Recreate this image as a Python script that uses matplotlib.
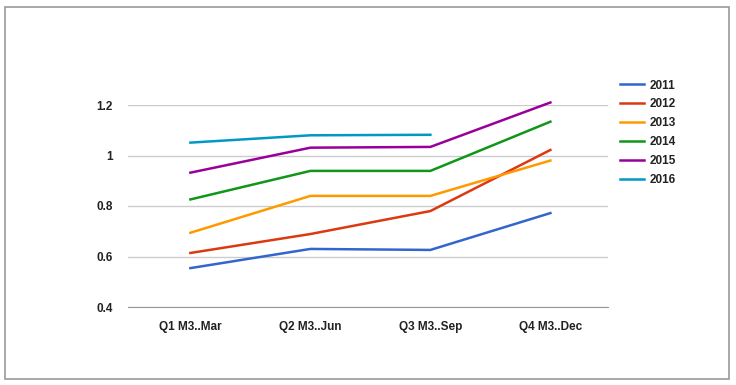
import matplotlib.pyplot as plt
from matplotlib.patches import Rectangle

quarters = ["Q1 M3..Mar", "Q2 M3..Jun", "Q3 M3..Sep", "Q4 M3..Dec"]
years = ["2011", "2012", "2013", "2014", "2015", "2016"]

v2011 = [0.554, 0.630, 0.626, 0.772]
v2012 = [0.614, 0.689, 0.780, 1.022]
v2013 = [0.694, 0.840, 0.840, 0.980]
v2014 = [0.826, 0.939, 0.939, 1.134]
v2015 = [0.932, 1.031, 1.034, 1.210]
v2016 = [1.051, 1.080, 1.082]

series = [v2011, v2012, v2013, v2014, v2015, v2016]
colors = ["#3366CC", "#DC3912", "#FF9900", "#109618", "#990099", "#0099C6"]

plt.rcParams['font.family'] = ['Liberation Sans', 'DejaVu Sans']

fig = plt.figure(figsize=(7.36, 3.85), dpi=100)
ax = fig.add_axes([128 / 736, 1 - 307 / 385, 480 / 736, 202 / 385])

for name, vals, c in zip(years, series, colors):
    ax.plot(range(len(vals)), vals, color=c, lw=1.8, label=name, clip_on=False)

ax.set_xlim(-0.52, 3.48)
ax.set_ylim(0.4, 1.2)
ax.set_yticks([0.4, 0.6, 0.8, 1.0, 1.2])
ax.set_yticklabels(["0.4", "0.6", "0.8", "1", "1.2"])
ax.set_xticks(range(4))
ax.set_xticklabels(quarters)
ax.grid(axis="y", color="#cccccc", lw=1)
ax.set_axisbelow(True)
for s in ax.spines.values():
    s.set_visible(False)
ax.spines["bottom"].set_visible(True)
ax.spines["bottom"].set_color("#999999")
ax.tick_params(length=0, labelsize=8.5, colors="#222222")
ax.tick_params(axis="y", pad=11)
ax.tick_params(axis="x", pad=10)
for t in ax.get_xticklabels() + ax.get_yticklabels():
    t.set_fontweight("bold")

leg = ax.legend(loc="upper left", bbox_to_anchor=(608 / 736 + 0.002, 1 - 69 / 385),
                bbox_transform=fig.transFigure, frameon=False,
                prop={"size": 8.5, "weight": "bold"}, handlelength=2.0,
                labelspacing=0.58, handletextpad=0.5)
for t in leg.get_texts():
    t.set_color("#222222")

fig.patches.append(Rectangle((5 / 736, 1 - 379 / 385), 724 / 736, 372 / 385,
                             transform=fig.transFigure, fill=False,
                             edgecolor="#999999", lw=1.2))

fig.savefig("out.png", dpi=100)
